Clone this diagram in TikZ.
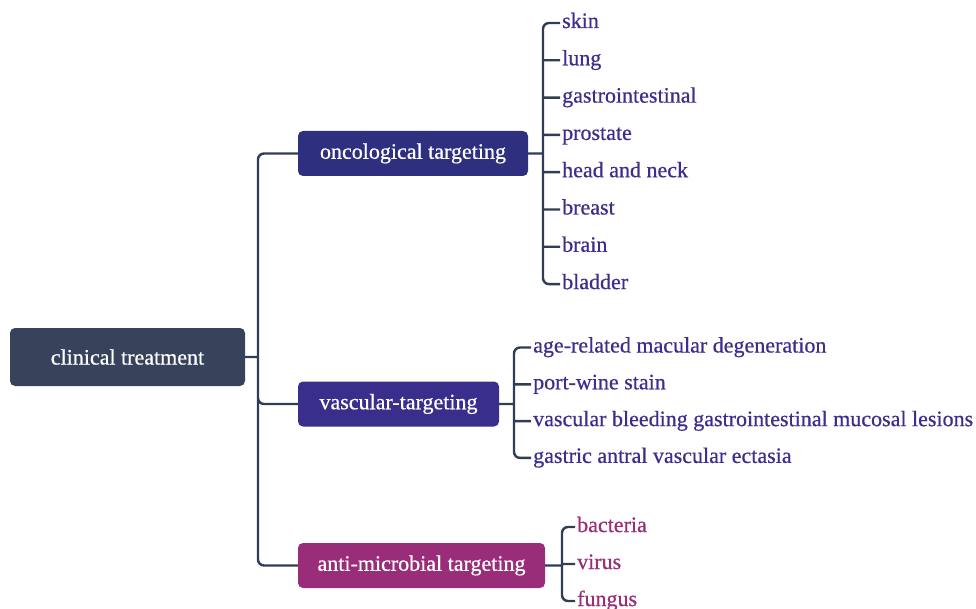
\documentclass[tikz,border=0pt]{standalone}
\usepackage{fontspec}
\setmainfont{Liberation Serif}[FakeBold=0.6]
\usetikzlibrary{positioning,calc}
\definecolor{rootcol}{HTML}{37435B}
\definecolor{oncocol}{HTML}{2F2F80}
\definecolor{vasccol}{HTML}{3A2E8C}
\definecolor{microcol}{HTML}{992D79}
\definecolor{linecol}{HTML}{2F3E55}
\definecolor{itemcol}{HTML}{3B2F8D}
\tikzstyle{topic} = [rectangle, rounded corners=5pt, text=white, inner sep=0pt, minimum height=45pt, font=\fontsize{22}{26}\selectfont]
\tikzstyle{item} = [anchor=west, inner sep=2pt, text height=10pt, text depth=0pt, text=itemcol, font=\fontsize{22}{26}\selectfont]
\tikzstyle{link} = [line width=2.4pt, draw=linecol, rounded corners=6pt]

\begin{document}
\begin{tikzpicture}[x=1pt,y=-1pt]
\useasboundingbox (0,0) rectangle (976,609);

\node[topic, fill=rootcol, minimum width=235pt, minimum height=58pt] (clinical) at (127.5,357) {clinical treatment};
\node[topic, fill=oncocol, minimum width=230pt] (onco) at (413,153.5) {oncological targeting};
\node[topic, fill=vasccol, minimum width=201pt] (vasc) at (398.5,404) {vascular-targeting};
\node[topic, fill=microcol, minimum width=247pt] (micro) at (421.5,565.5) {anti-microbial targeting};

\coordinate (trunk) at (258,357);
\coordinate (oncojoint) at (543,153.5);
\coordinate (vascjoint) at (514,404);
\coordinate (microjoint) at (562,565.5);

% oncological targeting
\node[item] (skin) at (560,23) {skin};
\node[item, below=37.3pt of skin.west, anchor=west] (lung) {lung};
\node[item, below=37.3pt of lung.west, anchor=west] (gastro) {gastrointestinal};
\node[item, below=37.3pt of gastro.west, anchor=west] (prostate) {prostate};
\node[item, below=37.3pt of prostate.west, anchor=west] (head) {head and neck};
\node[item, below=37.3pt of head.west, anchor=west] (breast) {breast};
\node[item, below=37.3pt of breast.west, anchor=west] (brain) {brain};
\node[item, below=37.3pt of brain.west, anchor=west] (bladder) {bladder};

% vascular-targeting
\node[item] (amd) at (531,347.5) {age-related macular degeneration};
\node[item, below=36.8pt of amd.west, anchor=west] (pws) {port-wine stain};
\node[item, below=36.8pt of pws.west, anchor=west] (bleeding) {vascular bleeding gastrointestinal mucosal lesions};
\node[item, below=36.8pt of bleeding.west, anchor=west] (gave) {gastric antral vascular ectasia};

% anti-microbial targeting
\node[item, text=microcol] (bacteria) at (575,527) {bacteria};
\node[item, text=microcol, below=37pt of bacteria.west, anchor=west] (virus) {virus};
\node[item, text=microcol, below=37pt of virus.west, anchor=west] (fungus) {fungus};

\draw[link]
	(clinical.east) -- (trunk)
	(onco.west) -| (trunk) |- (micro.west)
	(trunk) |- (vasc.west)

	(onco.east) -- (oncojoint)
	(skin.west) -| (oncojoint) |- (bladder.west)
	(lung.west) -- (lung.west -| oncojoint)
	(gastro.west) -- (gastro.west -| oncojoint)
	(prostate.west) -- (prostate.west -| oncojoint)
	(head.west) -- (head.west -| oncojoint)
	(breast.west) -- (breast.west -| oncojoint)
	(brain.west) -- (brain.west -| oncojoint)

	(vasc.east) -- (vascjoint)
	(amd.west) -| (vascjoint) |- (gave.west)
	(pws.west) -- (pws.west -| vascjoint)
	(bleeding.west) -- (bleeding.west -| vascjoint)

	(micro.east) -- (microjoint)
	(bacteria.west) -| (microjoint) |- (fungus.west)
	(virus.west) -- (virus.west -| microjoint)
;

\end{tikzpicture}
\end{document}
